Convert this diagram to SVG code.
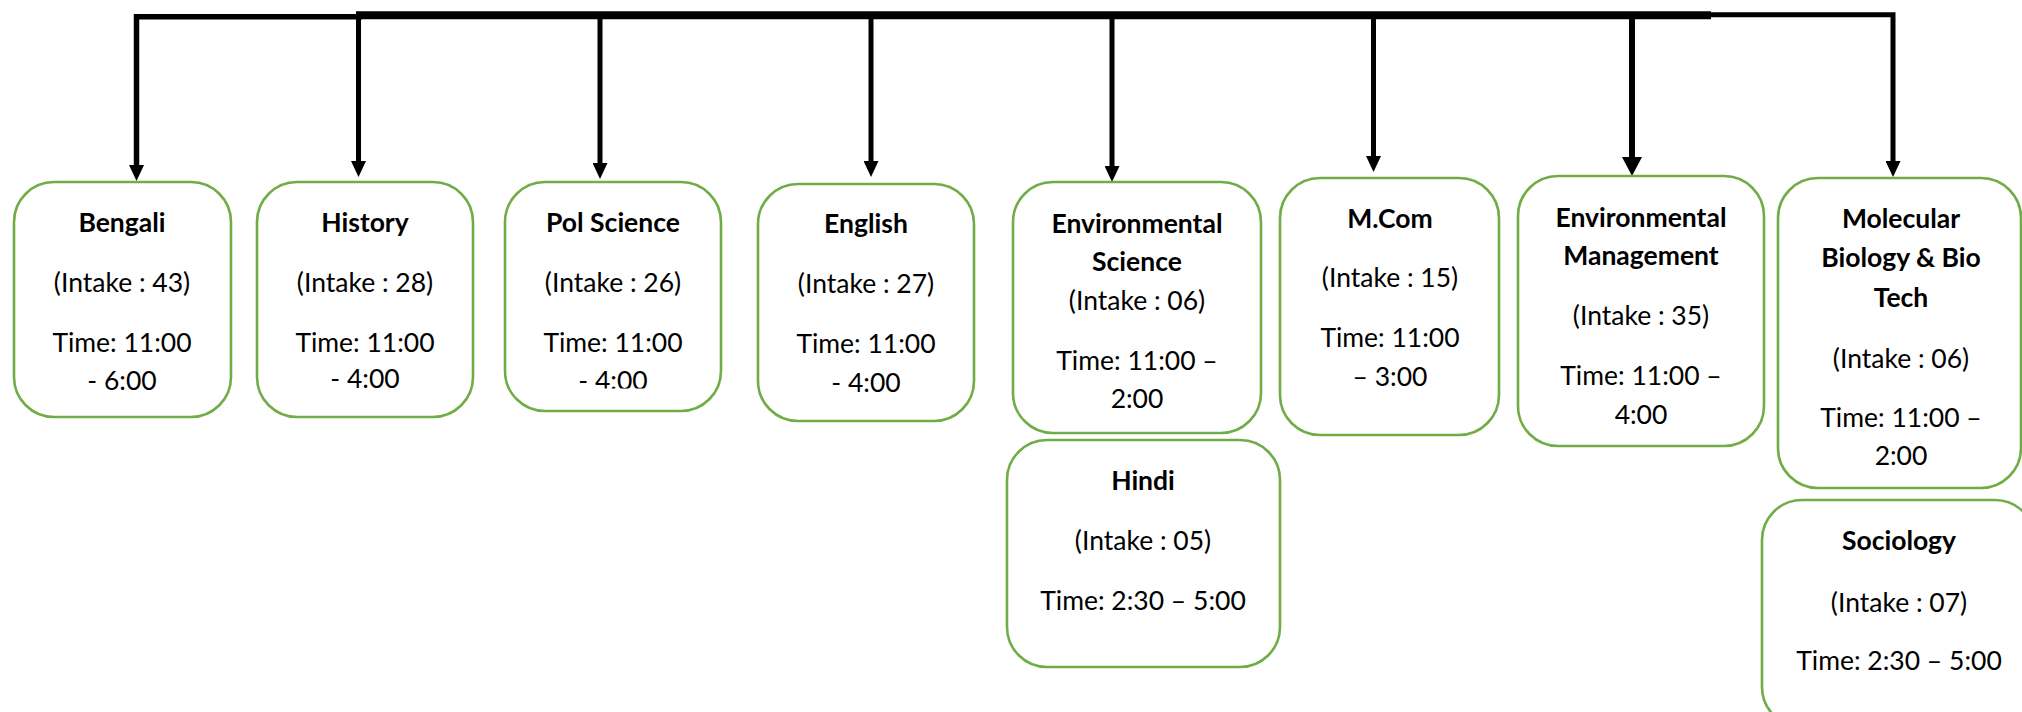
<svg xmlns="http://www.w3.org/2000/svg" width="2022" height="712" viewBox="0 0 2022 712">
<style>
.box{fill:#fff;stroke:#70AD47;stroke-width:2.6}
text{font-family:Lato,"Open Sans","Liberation Sans",sans-serif;font-size:26.5px;fill:#000;text-anchor:middle}
.t{font-weight:bold}
.wire{fill:none;stroke:#000;stroke-linejoin:miter;stroke-linecap:butt}
</style>
<defs>
<marker id="ah" markerUnits="userSpaceOnUse" viewBox="0 0 16 15" markerWidth="16" markerHeight="15" refX="0" refY="7.5" orient="auto"><path d="M0,0 L16,7.5 L0,15 z" fill="#000"/></marker>
<marker id="ahL" markerUnits="userSpaceOnUse" viewBox="0 0 19 20" markerWidth="19" markerHeight="20" refX="0" refY="10" orient="auto"><path d="M0,0 L19,10 L0,20 z" fill="#000"/></marker>
<clipPath id="polclip"><rect x="505" y="182" width="216" height="206.5"/></clipPath>
</defs>
<g id="connectors">
<path class="wire" d="M362,16.8 H136.5 V165" stroke-width="5.5" marker-end="url(#ah)"/>
<path class="wire" d="M356,15.2 H1711" stroke-width="8"/>
<path class="wire" d="M1630,14.8 H1893 V161" stroke-width="5" marker-end="url(#ah)"/>
<path class="wire" d="M358.5,15 V161" stroke-width="5" marker-end="url(#ah)"/>
<path class="wire" d="M600,15 V163" stroke-width="5" marker-end="url(#ah)"/>
<path class="wire" d="M871,15 V161" stroke-width="5" marker-end="url(#ah)"/>
<path class="wire" d="M1112,15 V166" stroke-width="5" marker-end="url(#ah)"/>
<path class="wire" d="M1373.5,15 V156" stroke-width="5" marker-end="url(#ah)"/>
<path class="wire" d="M1632,15 V157" stroke-width="6" marker-end="url(#ahL)"/>
</g>
<g id="bengali">
<rect class="box" x="14" y="182" width="217" height="235" rx="40"/>
<text class="t" x="122" y="232">Bengali</text>
<text x="122" y="292">(Intake : 43)</text>
<text x="122" y="352">Time: 11:00</text>
<text x="122" y="390">- 6:00</text>
</g>
<g id="history">
<rect class="box" x="257" y="182" width="216" height="235" rx="40"/>
<text class="t" x="365" y="232">History</text>
<text x="365" y="292">(Intake : 28)</text>
<text x="365" y="352">Time: 11:00</text>
<text x="365" y="388">- 4:00</text>
</g>
<g id="polscience">
<rect class="box" x="505" y="182" width="216" height="229" rx="40"/>
<text class="t" x="613" y="232">Pol Science</text>
<text x="613" y="292">(Intake : 26)</text>
<text x="613" y="352">Time: 11:00</text>
<text x="613" y="390" clip-path="url(#polclip)">- 4:00</text>
</g>
<g id="english">
<rect class="box" x="758" y="184" width="216" height="237" rx="40"/>
<text class="t" x="866" y="233">English</text>
<text x="866" y="293">(Intake : 27)</text>
<text x="866" y="353">Time: 11:00</text>
<text x="866" y="392">- 4:00</text>
</g>
<g id="envscience">
<rect class="box" x="1013" y="182" width="248" height="251" rx="40"/>
<text class="t" x="1137" y="233">Environmental</text>
<text class="t" x="1137" y="271">Science</text>
<text x="1137" y="310">(Intake : 06)</text>
<text x="1137" y="370">Time: 11:00 –</text>
<text x="1137" y="408">2:00</text>
</g>
<g id="mcom">
<rect class="box" x="1280" y="178" width="219" height="257" rx="40"/>
<text class="t" x="1390" y="228">M.Com</text>
<text x="1390" y="287">(Intake : 15)</text>
<text x="1390" y="347">Time: 11:00</text>
<text x="1390" y="386">– 3:00</text>
</g>
<g id="envmanagement">
<rect class="box" x="1518" y="176" width="246" height="270" rx="40"/>
<text class="t" x="1641" y="227">Environmental</text>
<text class="t" x="1641" y="265">Management</text>
<text x="1641" y="325">(Intake : 35)</text>
<text x="1641" y="385">Time: 11:00 –</text>
<text x="1641" y="424">4:00</text>
</g>
<g id="molecular">
<rect class="box" x="1778" y="178" width="243" height="310" rx="40"/>
<text class="t" x="1901" y="228">Molecular</text>
<text class="t" x="1901" y="267">Biology &amp; Bio</text>
<text class="t" x="1901" y="307">Tech</text>
<text x="1901" y="368">(Intake : 06)</text>
<text x="1901" y="427">Time: 11:00 –</text>
<text x="1901" y="465">2:00</text>
</g>
<g id="hindi">
<rect class="box" x="1007" y="440" width="273" height="227" rx="40"/>
<text class="t" x="1143" y="490">Hindi</text>
<text x="1143" y="550">(Intake : 05)</text>
<text x="1143" y="610">Time: 2:30 – 5:00</text>
</g>
<g id="sociology">
<rect class="box" x="1762" y="500" width="273" height="227" rx="40"/>
<text class="t" x="1899" y="550">Sociology</text>
<text x="1899" y="612">(Intake : 07)</text>
<text x="1899" y="670">Time: 2:30 – 5:00</text>
</g>
</svg>
